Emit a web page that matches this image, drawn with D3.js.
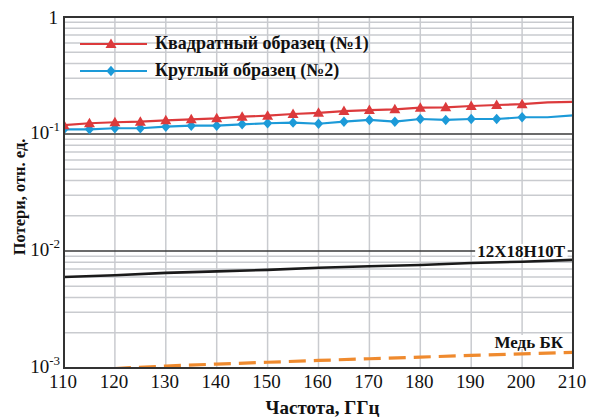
<!DOCTYPE html>
<html>
<head>
<meta charset="utf-8">
<script src="https://cdn.jsdelivr.net/npm/d3@7"></script>
<style>
  html, body { margin: 0; padding: 0; background: #fff; }
  svg { display: block; }
  text { font-family: "Liberation Serif", "Times New Roman", serif; fill: #111; }
</style>
</head>
<body>
<svg id="chart" width="591" height="417"></svg>
<script>
// Frequency grid of the measured samples, GHz
const freqs = [110, 115, 120, 125, 130, 135, 140, 145, 150, 155, 160,
               165, 170, 175, 180, 185, 190, 195, 200, 205, 210];
// Losses of the square sample (No.1), rel. units
const squareLoss = [0.119, 0.1235, 0.126, 0.1274, 0.131, 0.1336, 0.1362, 0.1406, 0.1433, 0.1483, 0.1518,
                    0.157, 0.160, 0.1626, 0.168, 0.169, 0.1735, 0.177, 0.180, 0.186, 0.188];
// Losses of the round sample (No.2), rel. units
const roundLoss = [0.1097, 0.1097, 0.112, 0.112, 0.1154, 0.1178, 0.1178, 0.121, 0.1235, 0.125, 0.1224,
                   0.1274, 0.1318, 0.1274, 0.1343, 0.1318, 0.1343, 0.1343, 0.139, 0.139, 0.1445];
// Reference materials, calculated every 10 GHz
const refFreqs = [110, 120, 130, 140, 150, 160, 170, 180, 190, 200, 210];
const steelLoss = [0.0060, 0.0062, 0.0065, 0.0067, 0.0069, 0.0072, 0.0074, 0.0076, 0.0079, 0.0081, 0.0084];
const copperLoss = [0.00095, 0.00099, 0.00104, 0.00108, 0.00112, 0.00116, 0.00120, 0.00124, 0.00128, 0.00132, 0.00136];
// Axis ticks and labels
const xTicks = [110, 120, 130, 140, 150, 160, 170, 180, 190, 200, 210];
const yDecades = [1e-3, 1e-2, 1e-1, 1];
const yDecadeExp = [-3, -2, -1, 0];
const markerLimit = 200;   // markers are drawn up to this frequency
const legendLabels = ["Квадратный образец (№1)", "Круглый образец (№2)"];
const steelLabel = "12X18H10T";
const copperLabel = "Медь БК";
const xTitle = "Частота, ГГц";
const yTitle = "Потери, отн. ед.";

const RED = "#dc3a3c", BLUE = "#1c9ad8", ORANGE = "#ef8a2e", STEEL = "#1a1a1a";
const GRID = "#c9cbcf", DECADE = "#3a3a3a";

const svg = d3.select("#chart");
const m = { left: 64, top: 17, right: 18, bottom: 49 };
const W = 591, H = 417;
const x = d3.scaleLinear().domain([110, 210]).range([m.left, W - m.right]);
const y = d3.scaleLog().domain([1e-3, 1]).range([H - m.bottom, m.top]);

svg.append("defs").append("clipPath").attr("id", "plot")
  .append("rect").attr("x", m.left).attr("y", m.top)
  .attr("width", W - m.left - m.right).attr("height", H - m.top - m.bottom);

// minor horizontal grid (2..9 in every decade)
const minor = [];
for (let d = 0; d < 3; d++) for (let k = 2; k <= 9; k++) minor.push(k * yDecades[d]);
svg.append("g").selectAll("line").data(minor).join("line")
  .attr("x1", m.left).attr("x2", W - m.right)
  .attr("y1", d => y(d)).attr("y2", d => y(d))
  .attr("stroke", GRID).attr("stroke-width", 1.5);

// vertical grid
svg.append("g").selectAll("line").data(xTicks.slice(1, -1)).join("line")
  .attr("x1", d => x(d)).attr("x2", d => x(d))
  .attr("y1", m.top).attr("y2", H - m.bottom)
  .attr("stroke", GRID).attr("stroke-width", 1.5);

// decade lines
svg.append("g").selectAll("line").data([1e-2, 1e-1]).join("line")
  .attr("x1", m.left).attr("x2", W - m.right)
  .attr("y1", d => y(d)).attr("y2", d => y(d))
  .attr("stroke", DECADE).attr("stroke-width", 1.5);

const plot = svg.append("g").attr("clip-path", "url(#plot)");

// copper, dashed
plot.append("path")
  .datum(refFreqs.map((f, i) => [f, copperLoss[i]]))
  .attr("fill", "none").attr("stroke", ORANGE).attr("stroke-width", 3.2)
  .attr("stroke-dasharray", "17,8")
  .attr("d", d3.line().x(d => x(d[0])).y(d => y(d[1])));

// stainless steel
plot.append("path")
  .datum(refFreqs.map((f, i) => [f, steelLoss[i]]))
  .attr("fill", "none").attr("stroke", STEEL).attr("stroke-width", 2.6)
  .attr("d", d3.line().x(d => x(d[0])).y(d => y(d[1])));

const tri = (cx, cy) => `M${cx},${cy - 5.5}L${cx + 5.5},${cy + 4}L${cx - 5.5},${cy + 4}Z`;
const dia = (cx, cy) => `M${cx},${cy - 5.2}L${cx + 4.6},${cy}L${cx},${cy + 5.2}L${cx - 4.6},${cy}Z`;

const series = [
  { vals: roundLoss, color: BLUE, marker: dia },
  { vals: squareLoss, color: RED, marker: tri }
];
series.forEach(s => {
  const pts = freqs.map((f, i) => [f, s.vals[i]]);
  plot.append("path").datum(pts)
    .attr("fill", "none").attr("stroke", s.color).attr("stroke-width", 2.2)
    .attr("d", d3.line().x(d => x(d[0])).y(d => y(d[1])));
  plot.append("g").selectAll("path").data(pts.filter(d => d[0] <= markerLimit)).join("path")
    .attr("fill", s.color)
    .attr("d", d => s.marker(x(d[0]), y(d[1])));
});

// plot frame
svg.append("rect")
  .attr("x", m.left).attr("y", m.top)
  .attr("width", W - m.left - m.right).attr("height", H - m.top - m.bottom)
  .attr("fill", "none").attr("stroke", "#333").attr("stroke-width", 2);

// x tick labels
svg.append("g").selectAll("text").data(xTicks).join("text")
  .attr("x", d => x(d) - 1).attr("y", H - m.bottom + 20)
  .attr("text-anchor", "middle").attr("font-size", 19)
  .text(d => d);

// y tick labels (powers of ten)
const yl = svg.append("g").selectAll("text").data(yDecades).join("text")
  .attr("x", m.left - 4).attr("y", d => y(d) + 5)
  .attr("text-anchor", "end").attr("font-size", 19);
yl.each(function (d, i) {
  const t = d3.select(this);
  if (yDecadeExp[i] === 0) {
    t.attr("x", m.left - 6).attr("y", y(d) + 7).text("1");
  } else {
    t.append("tspan").text("10");
    t.append("tspan").attr("dy", -8).attr("font-size", 13).text("-" + Math.abs(yDecadeExp[i]));
  }
});

// axis titles
svg.append("text")
  .attr("x", (m.left + W - m.right) / 2 + 4).attr("y", H - 3)
  .attr("text-anchor", "middle").attr("font-size", 19).attr("font-weight", "bold")
  .text(xTitle);
svg.append("text")
  .attr("transform", `translate(25,197) rotate(-90)`)
  .attr("text-anchor", "middle").attr("font-size", 16.5).attr("font-weight", "bold")
  .text(yTitle);

// labels of the reference curves, on a white backing
function curveLabel(text, xr, yb) {
  const g = svg.append("g");
  const t = g.append("text").attr("x", xr).attr("y", yb)
    .attr("text-anchor", "end").attr("font-size", 17).attr("font-weight", "bold").text(text);
  const b = t.node().getBBox();
  g.insert("rect", "text").attr("x", b.x - 2).attr("y", b.y + 2)
    .attr("width", b.width + 4).attr("height", b.height - 5).attr("fill", "#fff");
}
curveLabel(steelLabel, 565, 257);
curveLabel(copperLabel, 563, 348);

// legend
const legend = svg.append("g");
[
  { label: legendLabels[0], color: RED, marker: tri, yy: 44 },
  { label: legendLabels[1], color: BLUE, marker: dia, yy: 71 }
].forEach(e => {
  legend.append("line").attr("x1", 80).attr("x2", 147).attr("y1", e.yy).attr("y2", e.yy)
    .attr("stroke", e.color).attr("stroke-width", 2.2);
  legend.append("path").attr("fill", e.color).attr("d", e.marker(111, e.yy));
  legend.append("text").attr("x", 155).attr("y", e.yy + 5)
    .attr("font-size", 18).attr("font-weight", "bold").text(e.label);
});
</script>
</body>
</html>
